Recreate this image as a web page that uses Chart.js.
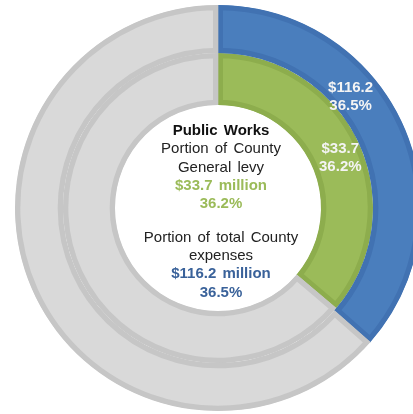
<!DOCTYPE html>
<html>
<head>
<meta charset="utf-8">
<script src="https://cdn.jsdelivr.net/npm/chart.js@4.4.1/dist/chart.umd.min.js"></script>
<style>
  html, body { margin: 0; padding: 0; background: #fff; }
  #wrap { width: 413px; height: 414px; overflow: hidden; position: relative; }
  canvas { position: absolute; left: 0; top: 0; }
</style>
</head>
<body>
<div id="wrap"><canvas id="rings" width="436" height="416"></canvas></div>
<script>
// Public Works share: outer ring = total County expenses, inner ring = County General levy
var ringNames = ["Total County expenses", "County General levy"];
var amounts = [116.2, 33.7];          // $ million
var shares = [36.5, 36.2];            // percent
var ringColors = ["#4a7ebd", "#9bbb59"];
var ringBorders = ["#4172b2", "#8dad4d"];
var centerLines = [
  { text: "Public Works", bold: true, color: "#111" },
  { text: "Portion of County", bold: false, color: "#222" },
  { text: "General levy", bold: false, color: "#222" },
  { text: "$33.7 million", bold: true, color: "#9bbb59" },
  { text: "36.2%", bold: true, color: "#9bbb59" },
  { text: "", gap: true },
  { text: "Portion of total County", bold: false, color: "#222" },
  { text: "expenses", bold: false, color: "#222" },
  { text: "$116.2 million", bold: true, color: "#3a629a" },
  { text: "36.5%", bold: true, color: "#3a629a" }
];

var FONT = "'Liberation Sans', Arial, sans-serif";

function ringData(i) {
  return {
    label: ringNames[i],
    data: [shares[i], 100 - shares[i]],
    backgroundColor: [ringColors[i], "#d9d9d9"],
    borderColor: [ringBorders[i], "#c6c6c6"],
    borderWidth: 5,
    borderAlign: "inner",
    weight: i === 0 ? 48 : 52
  };
}

// where along each coloured arc its label sits (angle fraction, radial fraction)
var labelPos = [[0.38, 0.38], [0.52, 0.56]];

var textPlugin = {
  id: "ringText",
  afterDraw: function (chart) {
    var ctx = chart.ctx;
    ctx.save();
    ctx.textAlign = "center";
    ctx.textBaseline = "middle";

    chart.data.datasets.forEach(function (ds, i) {
      var arc = chart.getDatasetMeta(i).data[0];
      var p = arc.getProps(["x", "y", "startAngle", "endAngle", "innerRadius", "outerRadius"], true);
      var a = p.startAngle + (p.endAngle - p.startAngle) * labelPos[i][0];
      var r = p.innerRadius + (p.outerRadius - p.innerRadius) * labelPos[i][1];
      var x = p.x + Math.cos(a) * r;
      var y = p.y + Math.sin(a) * r;
      ctx.fillStyle = "#f4f4f4";
      ctx.font = "bold 15px " + FONT;
      ctx.fillText("$" + amounts[i].toFixed(1), x, y - 9);
      ctx.fillText(shares[i].toFixed(1) + "%", x, y + 9);
    });

    var c = chart.getDatasetMeta(0).data[0];
    var cx = c.x + 3;
    var y = c.y - 77;
    ctx.wordSpacing = "2px";
    centerLines.forEach(function (line) {
      if (line.gap) { y += 15; return; }
      ctx.fillStyle = line.color;
      ctx.font = (line.bold ? "bold " : "") + "15px " + FONT;
      ctx.fillText(line.text, cx, y);
      y += 18.3;
    });
    ctx.restore();
  }
};

new Chart(document.getElementById("rings"), {
  type: "doughnut",
  data: {
    labels: ["Public Works", "Other"],
    datasets: [ringData(0), ringData(1)]
  },
  options: {
    responsive: false,
    animation: false,
    radius: 203,
    cutout: 103,
    layout: { padding: 5 },
    plugins: {
      legend: { display: false },
      tooltip: { enabled: false }
    }
  },
  plugins: [textPlugin]
});
</script>
</body>
</html>
